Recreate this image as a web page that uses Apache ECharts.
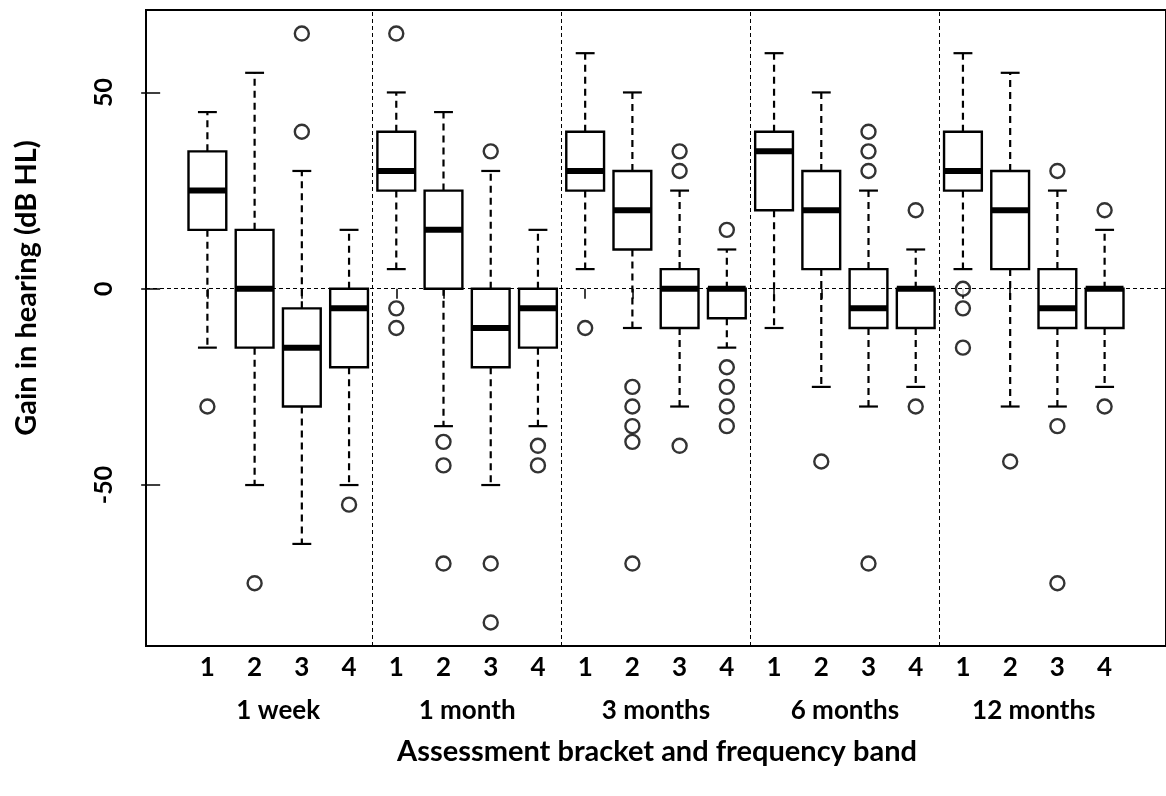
<!DOCTYPE html>
<html>
<head>
<meta charset="utf-8">
<script src="https://cdn.jsdelivr.net/npm/echarts@6/dist/echarts.min.js"></script>
<style>
html,body{margin:0;padding:0;background:#fff;}
#chart{width:1166px;height:796px;}
</style>
</head>
<body>
<div id="chart"></div>
<script>
// ---- data ----
const bands = ['1', '2', '3', '4'];
const brackets = ['1 week', '1 month', '3 months', '6 months', '12 months'];
const yTicks = [-50, 0, 50];
// per box (bracket x band order)
const lowWhisker  = [-15, -50, -65, -50,   5, -35, -50, -35,   5, -10, -30, -15,  -10, -25, -30, -25,   5, -30, -30, -25];
const q1          = [ 15, -15, -30, -20,  25,   0, -20, -15,  25,  10, -10, -7.5,  20,   5, -10, -10,  25,   5, -10, -10];
const median      = [ 25,   0, -15,  -5,  30,  15, -10,  -5,  30,  20,   0,   0,   35,  20,  -5,   0,  30,  20,  -5,   0];
const q3          = [ 35,  15,  -5,   0,  40,  25,   0,   0,  40,  30,   5,   0,   40,  30,   5,   0,  40,  30,   5,   0];
const highWhisker = [ 45,  55,  30,  15,  50,  45,  30,  15,  60,  50,  25,  10,   60,  50,  25,  10,  60,  55,  25,  15];
const outliers = [
  [-30], [-75], [65, 40], [-55],
  [65, -5, -10], [-39, -45, -70], [35, -70, -85], [-40, -45],
  [-10], [-25, -30, -35, -39, -70], [35, 30, -40], [15, -20, -25, -30, -35],
  [], [-44], [40, 35, 30, -70], [20, -30],
  [0, -5, -15], [-44], [30, -35, -75], [20, -30]
];

// ---- build ----
const boxData = median.map((m, i) => [i + 1, lowWhisker[i], q1[i], m, q3[i], highWhisker[i]]);
const outData = [];
outliers.forEach((arr, i) => arr.forEach(v => outData.push([i + 1, v])));
const xPositions = median.map((m, i) => i + 1);
const bracketCenters = brackets.map((b, i) => i * bands.length + (bands.length + 1) / 2);
const separators = brackets.slice(1).map((b, i) => (i + 1) * bands.length + 0.5);

const FONT = 'Lato';
const chart = echarts.init(document.getElementById('chart'), null, {renderer: 'canvas'});

function renderBox(params, api) {
  const x = api.value(0);
  const lo = api.coord([x, api.value(1)]);
  const b1 = api.coord([x, api.value(2)]);
  const md = api.coord([x, api.value(3)]);
  const b3 = api.coord([x, api.value(4)]);
  const hi = api.coord([x, api.value(5)]);
  const halfW = (api.coord([x + 0.4, 0])[0] - api.coord([x, 0])[0]);
  const cx = lo[0];
  const dash = {stroke: '#000', lineWidth: 2.2, lineDash: [7, 5]};
  const solid = {stroke: '#000', lineWidth: 2.2};
  return {
    type: 'group',
    children: [
      {type: 'line', shape: {x1: cx, y1: b3[1], x2: cx, y2: hi[1]}, style: dash},
      {type: 'line', shape: {x1: cx, y1: b1[1], x2: cx, y2: lo[1]}, style: dash},
      {type: 'line', shape: {x1: cx - halfW / 2, y1: hi[1], x2: cx + halfW / 2, y2: hi[1]}, style: solid},
      {type: 'line', shape: {x1: cx - halfW / 2, y1: lo[1], x2: cx + halfW / 2, y2: lo[1]}, style: solid},
      {type: 'rect', shape: {x: cx - halfW, y: b3[1], width: 2 * halfW, height: b1[1] - b3[1]},
        style: {fill: '#fff', stroke: '#000', lineWidth: 2.4}},
      {type: 'line', shape: {x1: cx - halfW, y1: md[1], x2: cx + halfW, y2: md[1]},
        style: {stroke: '#000', lineWidth: 6}}
    ]
  };
}

const option = {
  animation: false,
  backgroundColor: '#fff',
  grid: {left: 146, top: 10, width: 1022, height: 636, show: true, borderColor: '#000', borderWidth: 2, backgroundColor: 'transparent'},
  xAxis: [{
    type: 'value', min: -0.3, max: 21.3, position: 'bottom', offset: 3,
    axisLine: {show: false}, splitLine: {show: false},
    axisTick: {show: true, length: 10, customValues: xPositions, lineStyle: {color: '#000', width: 1.5}},
    axisLabel: {show: true, customValues: xPositions, margin: 6,
      formatter: v => bands[(Math.round(v) - 1) % bands.length],
      color: '#000', fontFamily: FONT, fontWeight: 'bold', fontSize: 26}
  }, {
    type: 'value', min: -0.3, max: 21.3, position: 'bottom', offset: 44,
    axisLine: {show: false}, splitLine: {show: false}, axisTick: {show: false},
    axisLabel: {show: true, customValues: bracketCenters,
      formatter: v => brackets[bracketCenters.indexOf(v)],
      color: '#000', fontFamily: FONT, fontWeight: 'bold', fontSize: 26}
  }],
  yAxis: {
    type: 'value', min: -91, max: 71,
    axisLine: {show: false}, splitLine: {show: false},
    axisTick: {show: true, length: 19, customValues: yTicks, lineStyle: {color: '#000', width: 1.5}},
    axisLabel: {show: true, customValues: yTicks, rotate: 90, margin: 30,
      color: '#000', fontFamily: FONT, fontWeight: 'bold', fontSize: 25}
  },
  graphic: [
    {type: 'text', x: 657, y: 752, style: {text: 'Assessment bracket and frequency band', fill: '#000',
      font: 'bold 29px Lato', textAlign: 'center', textVerticalAlign: 'middle'}},
    {type: 'text', x: 27, y: 288, rotation: Math.PI / 2, style: {text: 'Gain in hearing (dB HL)', fill: '#000',
      font: 'bold 29px Lato', textAlign: 'center', textVerticalAlign: 'middle'}}
  ],
  series: [
    {
      type: 'line', data: [], silent: true,
      markLine: {
        silent: true, symbol: 'none', animation: false,
        label: {show: false},
        lineStyle: {color: '#000', width: 1, type: [4, 3]},
        data: separators.map(s => ({xAxis: s})).concat([{yAxis: 0}])
      }
    },
    {
      type: 'custom', renderItem: renderBox, data: boxData, encode: {x: 0, y: [1, 2, 3, 4, 5]}, z: 3
    },
    {
      type: 'scatter', data: outData, symbol: 'circle', symbolSize: 14, z: 4,
      itemStyle: {color: '#fff', borderColor: '#000', borderWidth: 2.4}
    }
  ]
};
chart.setOption(option);
</script>
</body>
</html>
